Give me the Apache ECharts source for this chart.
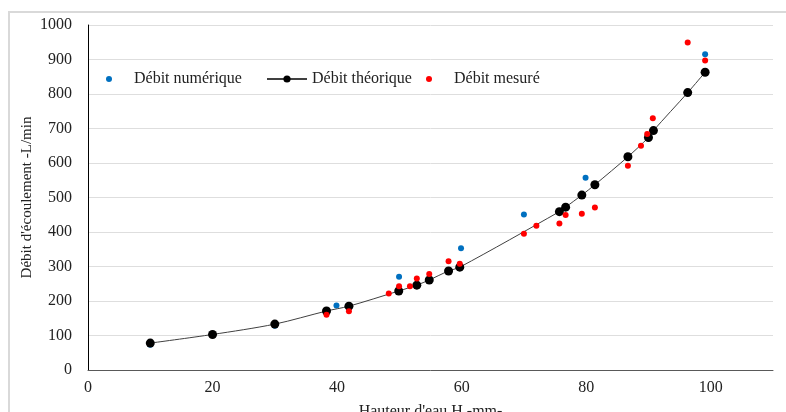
<!DOCTYPE html>
<html>
<head>
<meta charset="utf-8">
<script src="https://cdn.jsdelivr.net/npm/echarts@6/dist/echarts.min.js"></script>
<style>
  html, body { margin: 0; padding: 0; background: #fff; }
  #chart { position: absolute; left: 0; top: 0; width: 786px; height: 412px; }
  #frame { position: absolute; left: 8px; top: 11px; width: 800px; height: 420px;
           border: 2px solid #d9d9d9; pointer-events: none; }
</style>
</head>
<body>
<div id="chart"></div>
<div id="frame"></div>
<script>
// hauteur d'eau H (mm) / débit (L/min)
var numH = [10, 20, 30, 39.9, 49.95, 59.9, 70, 79.9, 90, 99.1];
var numQ = [73, 105, 128, 187, 270, 353, 451, 557, 671, 915];

var theoH = [10, 20, 30, 38.3, 41.9, 49.9, 52.8, 54.8, 57.9, 59.7, 75.7, 76.7, 79.3, 81.4, 86.7, 90.0, 90.8, 96.3, 99.1];
var theoQ = [78, 103, 133, 171, 185, 229, 246, 261, 287, 298, 459, 472, 507, 537, 618, 674, 694, 804, 863];

var mesH = [38.3, 41.9, 48.3, 49.95, 51.7, 52.8, 54.8, 57.9, 59.7, 70.0, 72.0, 75.7, 76.7, 79.3, 81.4, 86.7, 88.8, 89.8, 90.7, 96.3, 99.1];
var mesQ = [160, 170, 222, 243, 243, 265, 278, 315, 308, 395, 418, 425, 449, 453, 471, 592, 650, 684, 730, 949, 897];

function pairs(xs, ys) {
  var out = [];
  for (var i = 0; i < xs.length; i++) out.push([xs[i], ys[i]]);
  return out;
}

var serif = '"Liberation Serif", "DejaVu Serif", serif';

var chartDom = document.getElementById('chart');
var myChart = echarts.init(chartDom);
var option;

var legendText = { fontFamily: serif, fontSize: 16, color: '#222' };

option = {
  animation: false,
  grid: { left: 88, right: 13, top: 25, bottom: 42, containLabel: false, outerBoundsMode: 'none' },
  legend: [
    { left: 101, top: 66, itemWidth: 40, itemHeight: 6, textStyle: legendText,
      data: [{ name: 'Débit numérique', icon: 'circle' }] },
    { left: 261, top: 66, itemWidth: 40, itemHeight: 9, textStyle: legendText,
      data: ['Débit théorique'] },
    { left: 421, top: 66, itemWidth: 40, itemHeight: 6, textStyle: legendText,
      data: [{ name: 'Débit mesuré', icon: 'circle' }] }
  ],
  xAxis: {
    type: 'value',
    min: 0,
    max: 110,
    interval: 20,
    name: "Hauteur d'eau H -mm-",
    nameLocation: 'middle',
    nameGap: 34,
    nameMoveOverlap: false,
    nameTextStyle: { fontFamily: serif, fontSize: 16, color: '#222' },
    axisLine: { lineStyle: { color: '#595959', width: 1 } },
    axisTick: { show: false },
    splitLine: { show: false },
    axisLabel: {
      fontFamily: serif, fontSize: 16, color: '#222', margin: 10,
      formatter: function (v) { return v > 100 ? '' : String(v); }
    }
  },
  yAxis: {
    type: 'value',
    min: 0,
    max: 1000,
    interval: 100,
    name: "Débit d'écoulement -L/min",
    nameLocation: 'middle',
    nameGap: 53,
    nameMoveOverlap: false,
    nameTextStyle: { fontFamily: serif, fontSize: 15, color: '#222' },
    axisLine: { show: true, lineStyle: { color: '#000', width: 1 } },
    axisTick: { show: false },
    splitLine: { lineStyle: { color: '#dedede', width: 1 } },
    axisLabel: {
      fontFamily: serif, fontSize: 16, color: '#222', margin: 16,
      formatter: function (v) { return String(v); }
    }
  },
  series: [
    {
      name: 'Débit numérique',
      type: 'scatter',
      data: pairs(numH, numQ),
      symbolSize: 6,
      itemStyle: { color: '#0070c0', opacity: 1 },
      z: 2
    },
    {
      name: 'Débit théorique',
      type: 'line',
      data: pairs(theoH, theoQ),
      smooth: 0.3,
      symbol: 'circle',
      symbolSize: 9,
      showSymbol: true,
      itemStyle: { color: '#000' },
      lineStyle: { color: '#404040', width: 1 },
      z: 3
    },
    {
      name: 'Débit mesuré',
      type: 'scatter',
      data: pairs(mesH, mesQ),
      symbolSize: 6,
      itemStyle: { color: '#ff0000', opacity: 1 },
      z: 4
    }
  ]
};

option && myChart.setOption(option);
</script>
</body>
</html>
